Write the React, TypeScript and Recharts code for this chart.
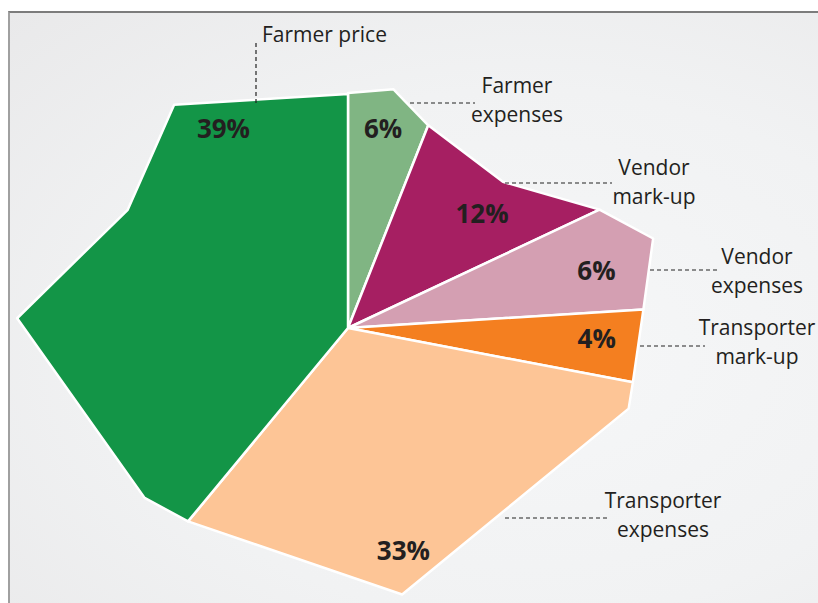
import * as React from "react";
import { PieChart, Pie, Cell } from "recharts";

// ----- Data (clockwise from 12 o'clock) -----
const categories = [
  "Farmer expenses",
  "Vendor mark-up",
  "Vendor expenses",
  "Transporter mark-up",
  "Transporter expenses",
  "Farmer price",
];
const shares = [6, 12, 6, 4, 33, 39];
const labelText = [
  ["Farmer", "expenses"],
  ["Vendor", "mark-up"],
  ["Vendor", "expenses"],
  ["Transporter", "mark-up"],
  ["Transporter", "expenses"],
  ["Farmer price"],
];

const pieData = categories.map((name, i) => ({ name, value: shares[i] }));

// ----- Style -----
const colors = ["#80b583", "#a61f62", "#d49fb2", "#f47f20", "#fdc596", "#139547"];
const FONT = "'Open Sans', 'Noto Sans', sans-serif";
const INK = "#231f20";
const R = 300;

// outline of each slice: [fraction along the slice angle, radius px at R=300]
const outlines: number[][][] = [
  [[0, 235], [0.5, 243], [1, 218]],
  [[0, 218], [0.58, 213], [1, 278]],
  [[0, 278], [0.41, 318], [1, 296]],
  [[0, 296], [1, 290]],
  [[0, 290], [0.044, 292], [0.57, 272], [1, 251]],
  [[0, 251], [0.075, 265], [0.371, 331], [0.56, 250], [0.73, 283], [1, 234]],
];

// percent label: clockwise shift from mid angle (deg), radius px
const pctPlace = [
  [-0.8, 202],
  [6.4, 176],
  [1.4, 255],
  [-1.1, 249],
  [5.8, 229],
  [38.2, 235],
];

// callouts, offsets from the pie centre
const callouts = [
  { x1: 62, y1: -225, x2: 127, y2: -225, tx: 169, ty: -235, anchor: "middle" },
  { x1: 157, y1: -145, x2: 264, y2: -145, tx: 306, ty: -153, anchor: "middle" },
  { x1: 302, y1: -58, x2: 369, y2: -58, tx: 409, ty: -64, anchor: "middle" },
  { x1: 292, y1: 18, x2: 357, y2: 18, tx: 409, ty: 7, anchor: "middle" },
  { x1: 157, y1: 190, x2: 259, y2: 190, tx: 315, ty: 180, anchor: "middle" },
  { x1: -92, y1: -285, x2: -92, y2: -225, tx: -86, ty: -286, anchor: "start" },
];

const RAD = Math.PI / 180;

function slotOf(props: any): number {
  const name = props.name ?? props.payload?.name;
  const i = categories.indexOf(name);
  return i >= 0 ? i : props.index ?? 0;
}

function PolySector(props: any) {
  const { cx, cy, startAngle, endAngle, outerRadius, fill } = props;
  const prof = outlines[slotOf(props)] ?? [[0, R], [1, R]];
  const pts: number[][] = [[cx, cy]];
  prof.forEach(([t, r]) => {
    const a = startAngle + (endAngle - startAngle) * t;
    const rr = (outerRadius * r) / R;
    pts.push([cx + rr * Math.cos(-a * RAD), cy + rr * Math.sin(-a * RAD)]);
  });
  return (
    <polygon
      points={pts.map((p) => p.join(",")).join(" ")}
      fill={fill}
      stroke="#ffffff"
      strokeWidth={2.5}
      strokeLinejoin="round"
    />
  );
}

function renderLabel(props: any) {
  const { cx, cy, midAngle, value } = props;
  const i = slotOf(props);
  const [shift, r] = pctPlace[i];
  const a = (midAngle - shift) * RAD;
  const px = cx + r * Math.cos(-a);
  const py = cy + r * Math.sin(-a);
  const c = callouts[i];
  return (
    <g key={`lbl-${i}`}>
      <text
        x={px}
        y={py}
        dy="0.36em"
        textAnchor="middle"
        fontFamily={FONT}
        fontWeight={700}
        fontSize={26}
        fill={INK}
      >
        {`${value}%`}
      </text>
      <line
        x1={cx + c.x1}
        y1={cy + c.y1}
        x2={cx + c.x2}
        y2={cy + c.y2}
        stroke="#222"
        strokeWidth={1.2}
        strokeDasharray="4 3"
      />
      <text
        x={cx + c.tx}
        y={cy + c.ty}
        textAnchor={c.anchor as any}
        fontFamily={FONT}
        fontSize={21}
        fill={INK}
      >
        {labelText[i].map((line, k) => (
          <tspan key={k} x={cx + c.tx} dy={k === 0 ? 0 : 29}>
            {line}
          </tspan>
        ))}
      </text>
    </g>
  );
}

export default function App() {
  return (
    <div style={{ position: "absolute", left: 0, top: 0, width: 818, height: 603, overflow: "hidden", background: "#ffffff" }}>
      <div
        style={{
          position: "absolute",
          left: 8,
          top: 11,
          width: 830,
          height: 620,
          borderTop: "2px solid #7c7c7c",
          borderLeft: "2px solid #a0a0a0",
          background: "radial-gradient(ellipse at 62% 55%, #f6f7f8 0%, #f1f2f3 55%, #e9e9ea 100%)",
        }}
      />
      <div style={{ position: "absolute", left: 0, top: 0 }}>
        <PieChart width={818} height={603} margin={{ top: 0, right: 0, bottom: 0, left: 0 }}>
          <Pie
            data={pieData}
            dataKey="value"
            nameKey="name"
            cx={348}
            cy={328}
            outerRadius={300}
            startAngle={90}
            endAngle={-270}
            stroke="none"
            shape={PolySector}
            activeShape={PolySector}
            label={renderLabel}
            labelLine={false}
            isAnimationActive={false}
          >
            {pieData.map((d, i) => (
              <Cell key={d.name} fill={colors[i]} />
            ))}
          </Pie>
        </PieChart>
      </div>
    </div>
  );
}
